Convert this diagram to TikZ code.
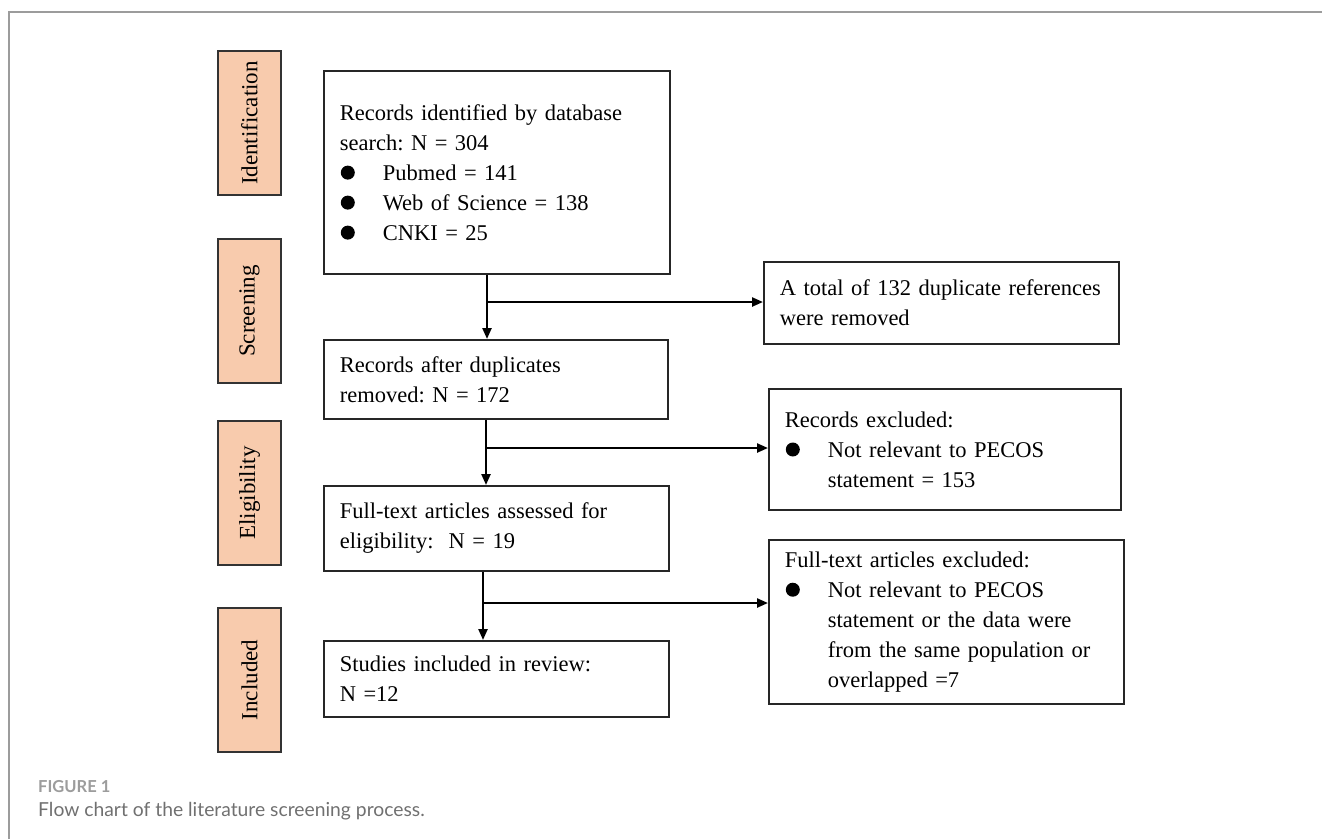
\documentclass[tikz,border=0pt]{standalone}
\usepackage{fontspec}
\setmainfont{Liberation Serif}
\newfontfamily\capfont{Lato}
\usetikzlibrary{positioning,calc,arrows.meta}
\definecolor{stagefill}{HTML}{F8CBAD}
\definecolor{framegray}{HTML}{9C9C9C}
\definecolor{capgray}{HTML}{707070}
\tikzset{
  stage/.style={draw=black!80, fill=stagefill, line width=1.4pt, rotate=90,
    minimum width=144pt, minimum height=63pt, inner sep=0pt,
    font=\fontsize{23}{27}\selectfont},
  box/.style={draw=black!85, line width=1.6pt, anchor=north west, inner xsep=16pt,
    inner ysep=0pt, align=left, font=\fontsize{22.5}{30}\selectfont},
  link/.style={line width=2.3pt, -{Triangle[length=11pt,width=9pt]}}
}
% filled bullet with its indent
\newcommand{\blt}{\makebox[43pt][l]{\hspace*{1pt}\tikz[baseline=-7.5pt]\fill (0pt,0pt) circle (7pt);}}
\frenchspacing
\begin{document}
\begin{tikzpicture}[x=1pt,y=-1pt]
    \useasboundingbox (0,0) rectangle (1322,839);
    \draw[framegray, line width=1.5pt] (9,839) -- (9,12) -- (1322,12);

    % stages on the left
    \node[stage] (ident) at (249.5,123) {Identification};
    \node[stage] (screen) at (249.5,311) {Screening};
    \node[stage] (elig) at (249.5,493) {Eligibility};
    \node[stage] (inclu) at (249.5,680) {Included};

    % main column
    \node[box, text width=314pt, minimum height=203pt] (rec) at (323,70)
        {Records identified by database\\search: N = 304\\\blt Pubmed = 141\\\blt Web of Science = 138\\\blt CNKI = 25};
    \node[box, text width=312pt, minimum height=79pt] (dedup) at (323,339)
        {Records after duplicates\\removed: N = 172};
    \node[box, text width=313pt, minimum height=85pt] (full) at (323,485)
        {Full-text articles assessed for\\eligibility:\ \ N = 19};
    \node[box, text width=313pt, minimum height=76pt] (incl) at (323,640)
        {Studies included in review:\\N =12};

    % excluded column
    \node[box, text width=323pt, minimum height=82pt] (dup) at (763,261)
        {\mbox{A total of 132 duplicate references}\\were removed};
    \node[box, text width=320pt, minimum height=121pt] (exc1) at (768,388)
        {Records excluded:\\\blt Not relevant to PECOS\\\hspace*{43pt}statement = 153};
    \node[box, text width=323pt, minimum height=164pt] (exc2) at (768,539)
        {Full-text articles excluded:\\\blt Not relevant to PECOS\\\hspace*{43pt}statement or the data were\\\hspace*{43pt}from the same population or\\\hspace*{43pt}overlapped =7};

    % arrows
    \coordinate (j1) at (487,302);
    \coordinate (j2) at (486,448);
    \coordinate (j3) at (483,603);
    \draw[link] (j1 |- rec.south) -- (j1 |- dedup.north);
    \draw[link] (j1) -- (j1 -| dup.west);
    \draw[link] (j2 |- dedup.south) -- (j2 |- full.north);
    \draw[link] (j2) -- (j2 -| exc1.west);
    \draw[link] (j3 |- full.south) -- (j3 |- incl.north);
    \draw[link] (j3) -- (j3 -| exc2.west);

    % caption
    \node[anchor=west, inner sep=0pt, text=framegray, font=\capfont\bfseries\fontsize{16.5}{19}\selectfont] (figlbl) at (38,787) {FIGURE 1};
    \node[anchor=west, inner sep=0pt, text=capgray, font=\capfont\fontsize{19.3}{23}\selectfont] (figcap) at (38,811) {Flow chart of the literature screening process.};
\end{tikzpicture}
\end{document}
